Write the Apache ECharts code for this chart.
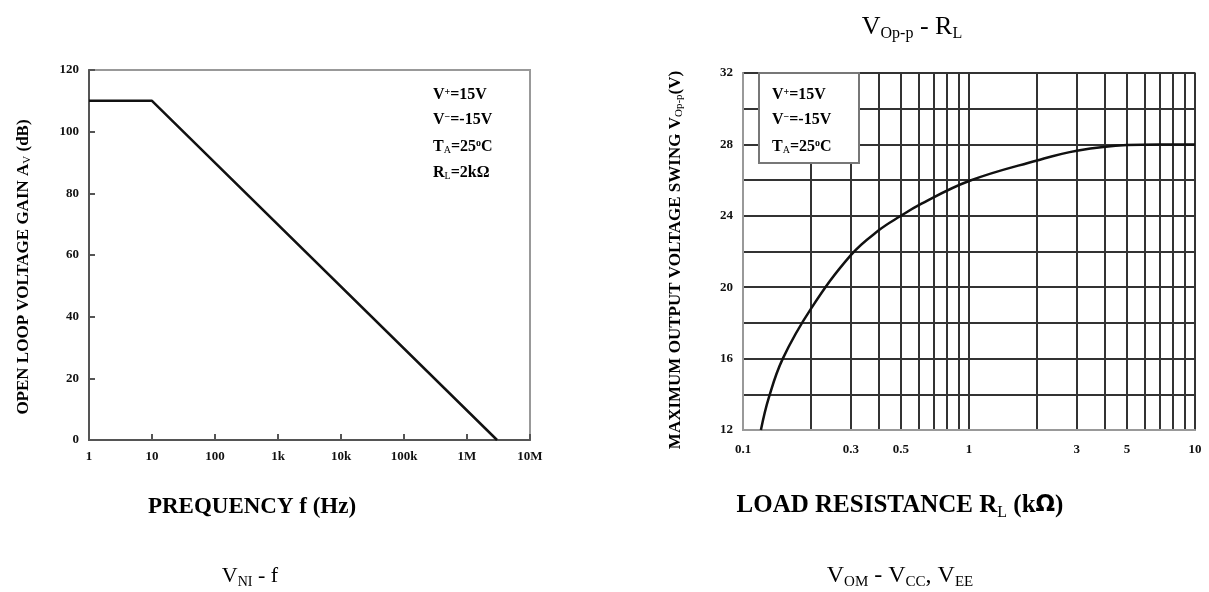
<!DOCTYPE html>
<html>
<head>
<meta charset="utf-8">
<script src="https://cdn.jsdelivr.net/npm/echarts@6/dist/echarts.min.js"></script>
<style>
  html, body { margin: 0; padding: 0; background: #fff; }
  #chart { width: 1209px; height: 592px; }
</style>
</head>
<body>
<div id="chart"></div>
<script>
// left: open loop gain vs frequency
var gainFreq = [1, 10, 3e6];
var gainDb = [110, 110, 0];
var freqTickLabels = ['1', '10', '100', '1k', '10k', '100k', '1M', '10M'];

// right: max output swing vs load resistance
var loadRes = [0.12, 0.13, 0.15, 0.2, 0.3, 0.4, 0.5, 0.6, 1, 2, 3, 5, 7, 10];
var swingV = [12, 13.8, 16, 18.8, 21.8, 23.2, 24, 24.6, 25.95, 27.1, 27.65, 27.97, 28, 28];
var loadGridLines = [0.1, 0.2, 0.3, 0.4, 0.5, 0.6, 0.7, 0.8, 0.9, 1, 2, 3, 4, 5, 6, 7, 8, 9, 10];
var loadTickLabels = [0.1, 0.3, 0.5, 1, 3, 5, 10];

var serif = '"Liberation Serif", "DejaVu Serif", serif';
var capColor = '#26324a';

var chart = echarts.init(document.getElementById('chart'));

function pairs(xs, ys) {
    return xs.map(function (x, i) { return [x, ys[i]]; });
}

// rich styles: m = main, s = subscript, p = superscript
function richSet(size, color, bold) {
    var w = bold ? 'bold' : 'normal';
    var small = Math.round(size * 0.62);
    return {
        m: { fontFamily: serif, fontSize: size, fontWeight: w, color: color, lineHeight: size, verticalAlign: 'top' },
        s: { fontFamily: serif, fontSize: small, fontWeight: 'normal', color: color, lineHeight: Math.round(size * 1.08), verticalAlign: 'bottom' },
        p: { fontFamily: serif, fontSize: small, fontWeight: w, color: color, lineHeight: small, verticalAlign: 'top' },
        o: { fontFamily: '"DejaVu Sans", sans-serif', fontSize: Math.round(size * 0.9), fontWeight: w, color: color, lineHeight: size, verticalAlign: 'top' }
    };
}

function label(x, y, text, size, bold, color, align, rotation) {
    return {
        type: 'text', x: x, y: y, z: 100, rotation: rotation || 0,
        style: { text: text, rich: richSet(size, color, bold), align: align || 'center', verticalAlign: 'middle' }
    };
}

function note(x, y, text) {
    return label(x, y, text, 16, true, '#111', 'left');
}

var tickFont = { fontFamily: serif, fontWeight: 'bold', fontSize: 13, color: '#111' };

var option = {
    animation: false,
    backgroundColor: '#fff',
    grid: [
        { left: 89, top: 70, width: 441, height: 370, show: true, borderColor: '#999', borderWidth: 2, backgroundColor: '#fff' },
        { left: 743, top: 73, width: 452, height: 357, show: true, borderColor: '#999', borderWidth: 2, backgroundColor: '#fff' }
    ],
    xAxis: [
        {
            gridIndex: 0,
            type: 'log',
            logBase: 10,
            min: 1,
            max: 1e7,
            axisLine: { lineStyle: { color: '#555', width: 2 } },
            axisTick: { inside: true, length: 6, lineStyle: { color: '#555', width: 2 } },
            splitLine: { show: false },
            axisLabel: Object.assign({
                margin: 10,
                formatter: function (v) { return freqTickLabels[Math.round(Math.log10(v))]; }
            }, tickFont)
        },
        {
            gridIndex: 1,
            type: 'log',
            logBase: 10,
            min: 0.1,
            max: 10,
            axisLine: { lineStyle: { color: '#999', width: 2 } },
            axisTick: { show: false, customValues: loadGridLines },
            splitLine: { show: true, lineStyle: { color: '#333', width: 2 } },
            axisLabel: Object.assign({ margin: 13, customValues: loadTickLabels }, tickFont)
        }
    ],
    yAxis: [
        {
            gridIndex: 0,
            type: 'value',
            min: 0,
            max: 120,
            interval: 20,
            axisLine: { show: true, lineStyle: { color: '#555', width: 2 } },
            axisTick: { show: true, inside: true, length: 6, lineStyle: { color: '#555', width: 2 } },
            splitLine: { show: false },
            axisLabel: Object.assign({ margin: 10 }, tickFont)
        },
        {
            gridIndex: 1,
            type: 'value',
            min: 12,
            max: 32,
            interval: 2,
            axisLine: { show: true, lineStyle: { color: '#999', width: 2 } },
            axisTick: { show: false },
            splitLine: { show: true, lineStyle: { color: '#333', width: 2 } },
            axisLabel: Object.assign({
                margin: 10,
                formatter: function (v) { return (v - 12) % 4 === 0 ? String(v) : ''; }
            }, tickFont)
        }
    ],
    series: [
        {
            type: 'line',
            xAxisIndex: 0,
            yAxisIndex: 0,
            data: pairs(gainFreq, gainDb),
            showSymbol: false,
            lineStyle: { color: '#111', width: 2.5 },
            z: 5
        },
        {
            type: 'line',
            xAxisIndex: 1,
            yAxisIndex: 1,
            data: pairs(loadRes, swingV),
            smooth: 0.4,
            showSymbol: false,
            lineStyle: { color: '#111', width: 2.5 },
            z: 5
        }
    ],
    graphic: [
        // axis names
        label(252, 507, '{m|PREQUENCY f (Hz)}', 23, true, '#1a1f2e'),
        label(900, 507, '{m|LOAD RESISTANCE R}{s|L}{m| (k}{o|Ω}{m|)}', 25, true, '#1a1f2e'),
        label(24, 267, '{m|OPEN LOOP VOLTAGE GAIN A}{s|V}{m| (dB)}', 17, true, '#111', 'center', Math.PI / 2),
        label(676, 260, '{m|MAXIMUM OUTPUT VOLTAGE SWING V}{s|Op-p}{m|(V)}', 17, true, '#111', 'center', Math.PI / 2),
        // conditions, left chart
        note(433, 95, '{m|V}{p|+}{m|=15V}'),
        note(433, 120, '{m|V}{p|−}{m|=-15V}'),
        note(433, 147, '{m|T}{s|A}{m|=25}{p|o}{m|C}'),
        note(433, 173, '{m|R}{s|L}{m|=2kΩ}'),
        // conditions box, right chart
        {
            type: 'rect', z: 90,
            shape: { x: 759, y: 73, width: 100, height: 90 },
            style: { fill: '#fff', stroke: '#777', lineWidth: 2 }
        },
        note(772, 95, '{m|V}{p|+}{m|=15V}'),
        note(772, 120, '{m|V}{p|−}{m|=-15V}'),
        note(772, 147, '{m|T}{s|A}{m|=25}{p|o}{m|C}'),
        // captions
        label(912, 28, '{m|V}{s|Op-p}{m| - R}{s|L}', 26, false, capColor),
        label(250, 577, '{m|V}{s|NI}{m| - f}', 22, false, capColor),
        label(900, 577, '{m|V}{s|OM}{m| - V}{s|CC}{m|, V}{s|EE}', 24, false, capColor)
    ]
};

chart.setOption(option);
</script>
</body>
</html>
